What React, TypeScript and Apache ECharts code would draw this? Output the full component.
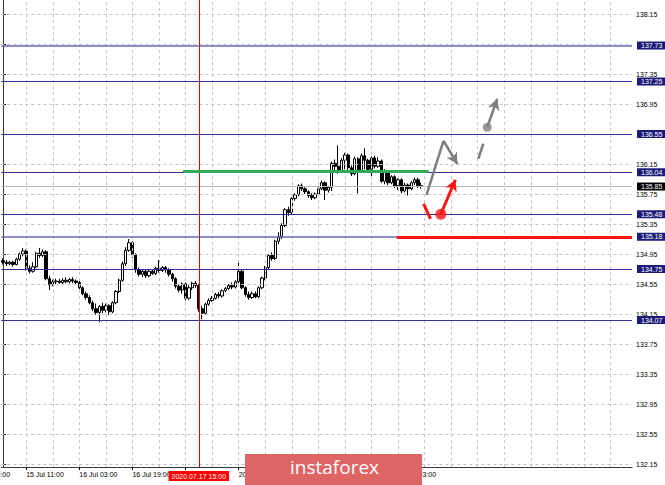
import React, { useEffect, useRef } from "react";
import * as echarts from "echarts";

// Hourly candles [open, close, low, high]
const jul15 = [
  [134.86, 134.84, 134.81, 134.89], [134.84, 134.82, 134.79, 134.87], [134.82, 134.84, 134.8, 134.86],
  [134.84, 134.81, 134.78, 134.86], [134.81, 134.88, 134.8, 134.9], [134.88, 134.95, 134.86, 134.97],
  [134.95, 134.99, 134.92, 135.03], [134.99, 134.76, 134.73, 135.01], [134.76, 134.72, 134.69, 134.8],
  [134.72, 134.78, 134.7, 134.84], [134.78, 134.96, 134.76, 134.98], [134.96, 134.93, 134.9, 135.03],
  [134.93, 134.98, 134.91, 135.01], [134.98, 134.62, 134.6, 135.0], [134.62, 134.54, 134.47, 134.66],
  [134.54, 134.58, 134.52, 134.61], [134.58, 134.59, 134.55, 134.62], [134.59, 134.57, 134.55, 134.62],
  [134.57, 134.6, 134.55, 134.63], [134.6, 134.58, 134.56, 134.64],
];
const jul16 = [
  [134.58, 134.61, 134.56, 134.63], [134.61, 134.59, 134.56, 134.64], [134.59, 134.57, 134.54, 134.61],
  [134.57, 134.5, 134.48, 134.59], [134.5, 134.42, 134.4, 134.52], [134.42, 134.37, 134.34, 134.45],
  [134.37, 134.3, 134.28, 134.4], [134.3, 134.22, 134.19, 134.33], [134.22, 134.17, 134.14, 134.29],
  [134.17, 134.25, 134.04, 134.27], [134.25, 134.2, 134.16, 134.3], [134.2, 134.26, 134.17, 134.29],
  [134.26, 134.18, 134.14, 134.28], [134.18, 134.3, 134.16, 134.32], [134.3, 134.45, 134.28, 134.47],
  [134.45, 134.6, 134.43, 134.62], [134.6, 134.82, 134.58, 134.85], [134.82, 135.0, 134.79, 135.04],
  [135.0, 135.1, 134.98, 135.15], [135.1, 134.94, 134.9, 135.12], [134.94, 134.74, 134.7, 134.96],
  [134.74, 134.68, 134.65, 134.77], [134.68, 134.72, 134.64, 134.75], [134.72, 134.66, 134.63, 134.74],
];
const jul17 = [
  [134.66, 134.72, 134.64, 134.75], [134.72, 134.69, 134.67, 134.75], [134.69, 134.76, 134.67, 134.78],
  [134.76, 134.73, 134.7, 134.87], [134.73, 134.77, 134.71, 134.79], [134.77, 134.74, 134.7, 134.79],
  [134.74, 134.68, 134.65, 134.76], [134.68, 134.62, 134.58, 134.7], [134.62, 134.52, 134.49, 134.64],
  [134.52, 134.47, 134.44, 134.55], [134.47, 134.55, 134.42, 134.57], [134.55, 134.36, 134.33, 134.57],
  [134.36, 134.5, 134.34, 134.53], [134.5, 134.56, 134.47, 134.58], [134.56, 134.53, 134.5, 134.59],
  [134.53, 134.22, 134.18, 134.55], [134.22, 134.16, 134.08, 134.26], [134.16, 134.28, 134.14, 134.3],
  [134.28, 134.33, 134.26, 134.36], [134.33, 134.36, 134.31, 134.39], [134.36, 134.41, 134.34, 134.43],
  [134.41, 134.39, 134.36, 134.44], [134.39, 134.46, 134.37, 134.48], [134.46, 134.49, 134.44, 134.51],
];
const jul20 = [
  [134.49, 134.53, 134.47, 134.55], [134.53, 134.51, 134.48, 134.57], [134.51, 134.58, 134.49, 134.6],
  [134.58, 134.72, 134.56, 134.85], [134.72, 134.5, 134.48, 134.74], [134.5, 134.41, 134.38, 134.52],
  [134.41, 134.37, 134.34, 134.45], [134.37, 134.42, 134.35, 134.45], [134.42, 134.38, 134.36, 134.45],
  [134.38, 134.5, 134.36, 134.52], [134.5, 134.63, 134.48, 134.65], [134.63, 134.77, 134.6, 134.79],
  [134.77, 134.93, 134.74, 134.95], [134.93, 134.89, 134.86, 134.97], [134.89, 135.12, 134.87, 135.14],
  [135.12, 135.18, 135.08, 135.24], [135.18, 135.33, 135.15, 135.36], [135.33, 135.54, 135.31, 135.56],
  [135.54, 135.5, 135.46, 135.58], [135.5, 135.69, 135.48, 135.71], [135.69, 135.74, 135.66, 135.76],
  [135.74, 135.86, 135.72, 135.88], [135.86, 135.82, 135.79, 135.89], [135.82, 135.78, 135.75, 135.84],
];
const jul21 = [
  [135.78, 135.73, 135.7, 135.8], [135.73, 135.7, 135.67, 135.76], [135.7, 135.75, 135.68, 135.77],
  [135.75, 135.82, 135.72, 135.84], [135.82, 135.9, 135.8, 135.93], [135.9, 135.8, 135.67, 135.92],
  [135.8, 135.84, 135.77, 135.86], [135.84, 136.16, 135.79, 136.18], [136.16, 136.12, 136.07, 136.21],
  [136.12, 136.06, 136.02, 136.4], [136.06, 136.2, 136.04, 136.23], [136.2, 136.27, 136.08, 136.3],
  [136.27, 136.1, 136.05, 136.29], [136.1, 136.02, 135.99, 136.13], [136.02, 136.22, 136.0, 136.25],
  [136.22, 136.05, 135.76, 136.24], [136.05, 136.26, 136.03, 136.29], [136.26, 136.2, 136.08, 136.36],
  [136.2, 136.08, 136.05, 136.22], [136.08, 136.23, 135.96, 136.25], [136.23, 136.12, 136.09, 136.26],
  [136.12, 136.19, 136.1, 136.24], [136.19, 135.92, 135.9, 136.21], [135.92, 136.05, 135.88, 136.08],
];
const jul22 = [
  [136.05, 135.9, 135.87, 136.07], [135.9, 135.98, 135.88, 136.0], [135.98, 135.86, 135.83, 136.0],
  [135.86, 135.94, 135.8, 135.96], [135.94, 135.79, 135.76, 135.96], [135.79, 135.87, 135.77, 135.9],
  [135.87, 135.82, 135.73, 135.89], [135.82, 135.9, 135.8, 135.92], [135.9, 135.94, 135.87, 135.97],
  [135.94, 135.86, 135.83, 135.97], [135.86, 135.85, 135.82, 135.9],
];

// time-axis labels every 16 bars (fully covered ones left empty, as in the picture)
const timeLabels = [
  "15 Jul 11:00", "16 Jul 03:00", "16 Jul 19:00", "",
  "20 Jul 03:00", "", "", "22 Jul 03:00",
];
const firstLabelBar = 7;
const labelEvery = 16;
const gridEvery = 8;
const totalSlots = 190;

const yTicks = [
  132.15, 132.55, 132.95, 133.35, 133.75, 134.15, 134.55, 134.95,
  135.35, 135.75, 136.15, 136.55, 136.95, 137.35, 137.75, 138.15,
];
// tick labels that are fully covered by level boxes in the picture
const yHiddenLabels = [136.55, 137.75];
const yMin = 132.11;
const yMax = 138.337;

const levels = [137.73, 137.25, 136.55, 136.04, 135.48, 135.18, 134.75, 134.07];
const lightLevels = [137.73, 135.18];
const currentPrice = 135.85;
const greenLevel = 136.06;
const greenFrom = 54.2;
const greenTo = 128.2;
const redLevel = 135.18;
const redFrom = 118.6;
const crosshairBar = 59;
const crosshairText = "2020.07.17 15:00";

// annotation drawings in [bar, price]
const grayPath = [[127.6, 135.74], [132.7, 136.46], [136.9, 136.15]];
const grayDash = [[143.2, 136.22], [144.7, 136.42]];
const grayDot = [145.9, 136.64];
const grayArrowEnd = [148.9, 137.02];
const redDash = [[126.7, 135.62], [128.8, 135.42]];
const redDot = [131.9, 135.48];
const redArrowEnd = [136.3, 135.94];

const FONT = "Liberation Sans";
const NAVY_LINE = "#30309a";
const NAVY_LIGHT = "#6a6ab4";
const NAVY_BOX = "#1c1c78";

export default function App() {
  const ref = useRef<HTMLDivElement>(null);
  useEffect(() => {
    const chart = echarts.init(ref.current!, null, { renderer: "svg" });
    const candles = [...jul15, ...jul16, ...jul17, ...jul20, ...jul21, ...jul22];
    const categories: string[] = [];
    for (let i = 0; i < totalSlots; i++) {
      const k = (i - firstLabelBar) / labelEvery;
      categories.push(Number.isInteger(k) && k >= 0 && k < timeLabels.length ? timeLabels[k] : "");
    }
    const isTickBar = (i: number) => {
      const k = (i - firstLabelBar) / labelEvery;
      return Number.isInteger(k) && k >= 0 && k < timeLabels.length;
    };

    const gridLines: any[] = [];
    for (let b = firstLabelBar; b < totalSlots; b += gridEvery) gridLines.push({ xAxis: b });
    yTicks.forEach((v) => gridLines.push({ yAxis: v }));

    const boxLabel = (text: string, bg: string) => ({
      show: true,
      position: "end",
      formatter: text,
      distance: 5,
      backgroundColor: bg,
      color: "#ffffff",
      fontFamily: FONT,
      fontSize: 7,
      lineHeight: 8,
      padding: [0, 4, 0, 4],
    });

    const levelLines: any[] = levels.map((v) => ({
      yAxis: v,
      lineStyle: lightLevels.includes(v)
        ? { color: NAVY_LIGHT, width: 1.6, type: "solid" }
        : { color: NAVY_LINE, width: 1, type: "solid" },
      label: boxLabel(v.toFixed(2), NAVY_BOX),
    }));
    levelLines.push({
      yAxis: currentPrice,
      lineStyle: { color: "#b8b8b8", width: 1, type: "solid" },
      label: boxLabel(currentPrice.toFixed(2), "#000000"),
    });
    levelLines.push({
      xAxis: crosshairBar,
      lineStyle: { color: "#e00000", width: 1, type: "solid" },
      label: {
        show: true,
        position: "start",
        formatter: crosshairText,
        distance: 4,
        backgroundColor: "#ff0000",
        color: "#ffffff",
        fontFamily: FONT,
        fontSize: 7,
        lineHeight: 9,
        padding: [1, 3, 0, 3],
      },
    });

    const seg = (a: number[], b: number[], color: string, width: number, arrow: boolean) => [
      { coord: a, symbol: "none", lineStyle: { color, width, type: "solid" } },
      { coord: b, symbol: arrow ? "arrow" : "none", symbolSize: arrow ? [9, 11] : 0 },
    ];
    const annoLines = [
      [
        { coord: [greenFrom, greenLevel], symbol: "none", lineStyle: { color: "#35a853", width: 3, type: "solid" } },
        { coord: [greenTo, greenLevel], symbol: "none" },
      ],
      [
        { coord: [redFrom, redLevel], symbol: "none", lineStyle: { color: "#ff1414", width: 3, type: "solid" } },
        { coord: [totalSlots - 0.5, redLevel], symbol: "none" },
      ],
      seg(grayPath[0], grayPath[1], "#7f7f7f", 2.5, false),
      seg(grayPath[1], grayPath[2], "#7f7f7f", 2.5, true),
      seg(grayDash[0], grayDash[1], "#7f7f7f", 2.5, false),
      seg(grayDot, grayArrowEnd, "#7f7f7f", 2.5, true),
      seg(redDash[0], redDash[1], "#ff1414", 3, false),
      seg(redDot, redArrowEnd, "#ff1414", 3, true),
    ];

    chart.setOption({
      animation: false,
      backgroundColor: "#ffffff",
      grid: { left: 0, top: 0, right: 33, bottom: 18, containLabel: false },
      xAxis: [
        {
          type: "category",
          data: categories,
          boundaryGap: true,
          axisLine: { show: true, lineStyle: { color: "#3a3a3a", width: 1 } },
          axisTick: { show: true, alignWithLabel: true, length: 3, interval: (i: number) => isTickBar(i), lineStyle: { color: "#000" } },
          axisLabel: {
            show: true,
            interval: 0,
            align: "left",
            margin: 4,
            color: "#000000",
            fontFamily: FONT,
            fontSize: 7,
          },
          splitLine: { show: false },
        },
        { type: "value", min: -0.5, max: totalSlots - 0.5, show: false, splitLine: { show: false } },
      ],
      yAxis: {
        type: "value",
        position: "right",
        min: yMin,
        max: yMax,
        axisLine: { show: true, lineStyle: { color: "#3a3a3a", width: 1 } },
        axisTick: { show: true, length: 3, customValues: yTicks, lineStyle: { color: "#000" } },
        axisLabel: {
          show: true,
          customValues: yTicks.filter((v) => !yHiddenLabels.includes(v)),
          formatter: (v: number) => v.toFixed(2),
          margin: 4,
          color: "#000000",
          fontFamily: FONT,
          fontSize: 7,
        },
        splitLine: { show: false },
      },
      series: [
        {
          name: "grid",
          type: "line",
          xAxisIndex: 1,
          z: 1,
          data: [],
          silent: true,
          markLine: {
            silent: true,
            symbol: ["none", "none"],
            label: { show: false },
            lineStyle: { color: "#c4c4c4", width: 1, type: [3, 3] },
            data: gridLines,
          },
        },
        {
          name: "GBPJPY,H1",
          type: "candlestick",
          xAxisIndex: 0,
          z: 3,
          barWidth: 2.8,
          data: candles,
          itemStyle: {
            color: "#ffffff",
            color0: "#000000",
            borderColor: "#000000",
            borderColor0: "#000000",
            borderWidth: 1,
          },
        },
        {
          name: "levels",
          type: "line",
          xAxisIndex: 1,
          z: 4,
          data: [],
          silent: true,
          markLine: {
            silent: true,
            symbol: ["none", "none"],
            data: levelLines,
          },
        },
        {
          name: "drawings",
          type: "line",
          xAxisIndex: 1,
          z: 5,
          data: [],
          silent: true,
          markLine: {
            silent: true,
            symbol: ["none", "none"],
            label: { show: false },
            data: annoLines,
          },
        },
        {
          name: "dots",
          type: "scatter",
          xAxisIndex: 1,
          z: 6,
          silent: true,
          symbolSize: 10,
          data: [
            { value: grayDot, itemStyle: { color: "#7f7f7f" }, symbolSize: 9 },
            { value: redDot, itemStyle: { color: "#ff1414" }, symbolSize: 11 },
          ],
        },
      ],
      graphic: [
        {
          type: "text",
          left: -28,
          top: 471,
          z: 50,
          style: { text: "14 Jul 19:00", fill: "#000", font: `7px "${FONT}"` },
        },
        {
          type: "rect",
          left: 245,
          top: 454,
          z: 100,
          zlevel: 1,
          shape: { x: 0, y: 0, width: 177, height: 31 },
          style: { fill: "#df6464" },
        },
        {
          type: "text",
          left: 290,
          top: 457,
          z: 101,
          zlevel: 1,
          style: {
            text: "instaforex",
            fill: "#ffffff",
            font: `19px "Open Sans"`,
          },
        },
      ],
    });
    return () => chart.dispose();
  }, []);
  return <div ref={ref} style={{ position: "absolute", left: 0, top: 0, width: 665, height: 485 }} />;
}
